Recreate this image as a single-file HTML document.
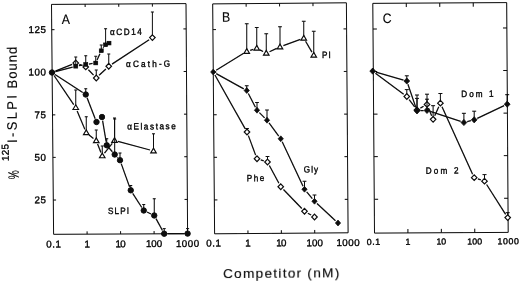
<!DOCTYPE html>
<html><head><meta charset="utf-8"><title>Figure</title>
<style>
html,body{margin:0;padding:0;background:#fff;}
body{width:520px;height:282px;overflow:hidden;}
svg{display:block;}
svg text{font-family:"Liberation Sans",sans-serif;fill:#080808;stroke:#080808;stroke-width:0.36;}
svg text.b{stroke-width:0.12;}
</style></head>
<body>
<svg width="520" height="282" viewBox="0 0 520 282">
<defs><filter id="soft" x="0" y="0" width="520" height="282" filterUnits="userSpaceOnUse"><feGaussianBlur stdDeviation="0.35"/></filter></defs>
<rect width="520" height="282" fill="#fff"/>
<g filter="url(#soft)">
<g stroke="#080808" stroke-linecap="butt">
<polygon points="51.5,4.4 186.0,3.6 187.6,233.7 53.6,234.3" fill="none" stroke-width="1.0" stroke-linejoin="miter"/>
<line x1="85.12" y1="4.20" x2="85.14" y2="7.00" stroke-width="1.0" />
<line x1="87.10" y1="234.15" x2="87.08" y2="231.35" stroke-width="1.0" />
<line x1="118.75" y1="4.00" x2="118.77" y2="6.80" stroke-width="1.0" />
<line x1="120.60" y1="234.00" x2="120.58" y2="231.20" stroke-width="1.0" />
<line x1="152.38" y1="3.80" x2="152.40" y2="6.60" stroke-width="1.0" />
<line x1="154.10" y1="233.85" x2="154.08" y2="231.05" stroke-width="1.0" />
<line x1="51.73" y1="29.69" x2="54.53" y2="29.68" stroke-width="1.0" />
<line x1="186.18" y1="28.91" x2="183.38" y2="28.92" stroke-width="1.0" />
<line x1="52.12" y1="72.22" x2="54.92" y2="72.21" stroke-width="1.0" />
<line x1="186.47" y1="71.48" x2="183.67" y2="71.49" stroke-width="1.0" />
<line x1="52.51" y1="114.87" x2="55.31" y2="114.86" stroke-width="1.0" />
<line x1="186.77" y1="114.16" x2="183.97" y2="114.17" stroke-width="1.0" />
<line x1="52.90" y1="157.40" x2="55.70" y2="157.39" stroke-width="1.0" />
<line x1="187.06" y1="156.73" x2="184.26" y2="156.74" stroke-width="1.0" />
<line x1="53.29" y1="200.04" x2="56.09" y2="200.03" stroke-width="1.0" />
<line x1="187.36" y1="199.42" x2="184.56" y2="199.43" stroke-width="1.0" />
<polygon points="212.7,3.9 346.4,2.8 348.1,232.8 214.6,233.8" fill="none" stroke-width="1.0" stroke-linejoin="miter"/>
<line x1="246.12" y1="3.62" x2="246.15" y2="6.72" stroke-width="1.0" />
<line x1="247.97" y1="233.55" x2="247.95" y2="230.45" stroke-width="1.0" />
<line x1="279.55" y1="3.35" x2="279.57" y2="6.45" stroke-width="1.0" />
<line x1="281.35" y1="233.30" x2="281.33" y2="230.20" stroke-width="1.0" />
<line x1="312.97" y1="3.07" x2="312.99" y2="6.17" stroke-width="1.0" />
<line x1="314.73" y1="233.05" x2="314.71" y2="229.95" stroke-width="1.0" />
<line x1="212.91" y1="29.59" x2="216.01" y2="29.58" stroke-width="1.0" />
<line x1="346.59" y1="28.90" x2="343.49" y2="28.91" stroke-width="1.0" />
<line x1="213.26" y1="72.12" x2="216.36" y2="72.11" stroke-width="1.0" />
<line x1="346.90" y1="71.45" x2="343.80" y2="71.46" stroke-width="1.0" />
<line x1="213.61" y1="114.77" x2="216.71" y2="114.76" stroke-width="1.0" />
<line x1="347.22" y1="114.11" x2="344.12" y2="114.12" stroke-width="1.0" />
<line x1="213.96" y1="157.30" x2="217.06" y2="157.29" stroke-width="1.0" />
<line x1="347.53" y1="156.67" x2="344.43" y2="156.68" stroke-width="1.0" />
<line x1="214.32" y1="199.94" x2="217.42" y2="199.93" stroke-width="1.0" />
<line x1="347.85" y1="199.33" x2="344.75" y2="199.34" stroke-width="1.0" />
<polygon points="372.8,3.35 506.7,2.6 508.2,232.4 374.5,233.1" fill="none" stroke-width="1.0" stroke-linejoin="miter"/>
<line x1="406.27" y1="3.16" x2="406.29" y2="7.06" stroke-width="1.0" />
<line x1="407.93" y1="232.93" x2="407.91" y2="229.03" stroke-width="1.0" />
<line x1="439.75" y1="2.98" x2="439.77" y2="6.88" stroke-width="1.0" />
<line x1="441.35" y1="232.75" x2="441.33" y2="228.85" stroke-width="1.0" />
<line x1="473.23" y1="2.79" x2="473.25" y2="6.69" stroke-width="1.0" />
<line x1="474.77" y1="232.57" x2="474.75" y2="228.67" stroke-width="1.0" />
<line x1="372.99" y1="29.02" x2="376.89" y2="29.01" stroke-width="1.0" />
<line x1="506.87" y1="27.98" x2="502.97" y2="27.99" stroke-width="1.0" />
<line x1="373.30" y1="71.53" x2="377.20" y2="71.52" stroke-width="1.0" />
<line x1="507.14" y1="70.49" x2="503.24" y2="70.50" stroke-width="1.0" />
<line x1="373.62" y1="114.14" x2="377.52" y2="114.13" stroke-width="1.0" />
<line x1="507.42" y1="113.12" x2="503.52" y2="113.13" stroke-width="1.0" />
<line x1="373.93" y1="156.65" x2="377.83" y2="156.64" stroke-width="1.0" />
<line x1="507.70" y1="155.63" x2="503.80" y2="155.64" stroke-width="1.0" />
<line x1="374.25" y1="199.27" x2="378.15" y2="199.26" stroke-width="1.0" />
<line x1="507.98" y1="198.26" x2="504.08" y2="198.27" stroke-width="1.0" />
<line x1="75.75" y1="107.60" x2="75.75" y2="90.00" stroke-width="1.0" />
<line x1="74.25" y1="90.00" x2="77.25" y2="90.00" stroke-width="1.0" />
<line x1="86.25" y1="132.70" x2="86.25" y2="116.75" stroke-width="1.0" />
<line x1="84.75" y1="116.75" x2="87.75" y2="116.75" stroke-width="1.0" />
<line x1="96.25" y1="140.70" x2="96.25" y2="130.00" stroke-width="1.0" />
<line x1="94.75" y1="130.00" x2="97.75" y2="130.00" stroke-width="1.0" />
<line x1="102.25" y1="155.90" x2="102.25" y2="146.00" stroke-width="1.0" />
<line x1="100.75" y1="146.00" x2="103.75" y2="146.00" stroke-width="1.0" />
<line x1="114.50" y1="140.45" x2="114.50" y2="118.00" stroke-width="1.0" />
<line x1="113.00" y1="118.00" x2="116.00" y2="118.00" stroke-width="1.0" />
<line x1="153.50" y1="150.95" x2="153.50" y2="133.80" stroke-width="1.0" />
<line x1="152.00" y1="133.80" x2="155.00" y2="133.80" stroke-width="1.0" />
<line x1="54.02" y1="75.48" x2="73.73" y2="104.62" stroke-width="1.25" />
<line x1="77.14" y1="110.92" x2="84.86" y2="129.38" stroke-width="1.25" />
<line x1="89.06" y1="134.95" x2="93.44" y2="138.45" stroke-width="1.25" />
<line x1="97.57" y1="144.05" x2="100.93" y2="152.55" stroke-width="1.25" />
<line x1="104.49" y1="153.08" x2="112.26" y2="143.27" stroke-width="1.25" />
<line x1="117.98" y1="141.39" x2="150.02" y2="150.01" stroke-width="1.25" />
<polygon points="75.75,104.80 78.55,109.50 72.95,109.50" fill="#fff" stroke-width="1.1"/>
<polygon points="86.25,129.90 89.05,134.60 83.45,134.60" fill="#fff" stroke-width="1.1"/>
<polygon points="96.25,137.90 99.05,142.60 93.45,142.60" fill="#fff" stroke-width="1.1"/>
<polygon points="102.25,153.10 105.05,157.80 99.45,157.80" fill="#fff" stroke-width="1.1"/>
<polygon points="114.50,137.65 117.30,142.35 111.70,142.35" fill="#fff" stroke-width="1.1"/>
<polygon points="153.50,148.15 156.30,152.85 150.70,152.85" fill="#fff" stroke-width="1.1"/>
<line x1="96.25" y1="78.00" x2="96.25" y2="70.00" stroke-width="1.0" />
<line x1="94.75" y1="70.00" x2="97.75" y2="70.00" stroke-width="1.0" />
<line x1="108.75" y1="66.25" x2="108.75" y2="54.00" stroke-width="1.0" />
<line x1="107.25" y1="54.00" x2="110.25" y2="54.00" stroke-width="1.0" />
<line x1="152.40" y1="37.60" x2="152.40" y2="12.00" stroke-width="1.0" />
<line x1="150.90" y1="12.00" x2="153.90" y2="12.00" stroke-width="1.0" />
<line x1="55.34" y1="71.16" x2="72.13" y2="64.45" stroke-width="1.25" />
<line x1="79.38" y1="64.42" x2="82.12" y2="65.48" stroke-width="1.25" />
<line x1="88.43" y1="69.73" x2="93.57" y2="75.17" stroke-width="1.25" />
<line x1="99.09" y1="75.33" x2="105.91" y2="68.92" stroke-width="1.25" />
<line x1="112.01" y1="64.11" x2="149.14" y2="39.74" stroke-width="1.25" />
<polygon points="75.75,60.20 78.50,63.00 75.75,65.80 73.00,63.00" fill="#fff" stroke-width="1.2"/>
<polygon points="85.75,64.10 88.50,66.90 85.75,69.70 83.00,66.90" fill="#fff" stroke-width="1.2"/>
<polygon points="96.25,75.20 99.00,78.00 96.25,80.80 93.50,78.00" fill="#fff" stroke-width="1.2"/>
<polygon points="108.75,63.45 111.50,66.25 108.75,69.05 106.00,66.25" fill="#fff" stroke-width="1.2"/>
<polygon points="152.40,34.80 155.15,37.60 152.40,40.40 149.65,37.60" fill="#fff" stroke-width="1.2"/>
<line x1="75.75" y1="66.25" x2="75.75" y2="57.00" stroke-width="1.0" />
<line x1="74.25" y1="57.00" x2="77.25" y2="57.00" stroke-width="1.0" />
<line x1="85.75" y1="64.50" x2="85.75" y2="55.75" stroke-width="1.0" />
<line x1="84.25" y1="55.75" x2="87.25" y2="55.75" stroke-width="1.0" />
<line x1="95.75" y1="63.00" x2="95.75" y2="56.25" stroke-width="1.0" />
<line x1="94.25" y1="56.25" x2="97.25" y2="56.25" stroke-width="1.0" />
<line x1="101.25" y1="50.75" x2="101.25" y2="45.00" stroke-width="1.0" />
<line x1="99.75" y1="45.00" x2="102.75" y2="45.00" stroke-width="1.0" />
<line x1="105.60" y1="44.80" x2="105.60" y2="28.75" stroke-width="1.0" />
<line x1="104.10" y1="28.75" x2="107.10" y2="28.75" stroke-width="1.0" />
<line x1="55.48" y1="71.58" x2="72.66" y2="67.06" stroke-width="1.25" />
<line x1="78.90" y1="65.70" x2="82.60" y2="65.05" stroke-width="1.25" />
<line x1="88.91" y1="64.03" x2="92.59" y2="63.47" stroke-width="1.25" />
<line x1="97.06" y1="60.08" x2="99.94" y2="53.67" stroke-width="1.25" />
<line x1="103.14" y1="48.17" x2="103.71" y2="47.38" stroke-width="1.25" />
<rect x="73.75" y="64.40" width="4.0" height="3.7" fill="#080808" stroke-width="0.6"/>
<rect x="83.75" y="62.65" width="4.0" height="3.7" fill="#080808" stroke-width="0.6"/>
<rect x="93.75" y="61.15" width="4.0" height="3.7" fill="#080808" stroke-width="0.6"/>
<rect x="99.25" y="48.90" width="4.0" height="3.7" fill="#080808" stroke-width="0.6"/>
<rect x="103.60" y="42.95" width="4.0" height="3.7" fill="#080808" stroke-width="0.6"/>
<rect x="107.00" y="41.25" width="4.0" height="3.7" fill="#080808" stroke-width="0.6"/>
<line x1="85.75" y1="94.50" x2="85.75" y2="88.75" stroke-width="1.0" />
<line x1="84.25" y1="88.75" x2="87.25" y2="88.75" stroke-width="1.0" />
<line x1="106.75" y1="145.30" x2="106.75" y2="138.75" stroke-width="1.0" />
<line x1="105.25" y1="138.75" x2="108.25" y2="138.75" stroke-width="1.0" />
<line x1="114.70" y1="154.50" x2="114.70" y2="119.00" stroke-width="1.0" />
<line x1="113.20" y1="119.00" x2="116.20" y2="119.00" stroke-width="1.0" />
<line x1="120.00" y1="160.20" x2="120.00" y2="153.00" stroke-width="1.0" />
<line x1="118.50" y1="153.00" x2="121.50" y2="153.00" stroke-width="1.0" />
<line x1="130.75" y1="190.30" x2="130.75" y2="185.50" stroke-width="1.0" />
<line x1="129.25" y1="185.50" x2="132.25" y2="185.50" stroke-width="1.0" />
<line x1="143.75" y1="210.50" x2="143.75" y2="204.50" stroke-width="1.0" />
<line x1="142.25" y1="204.50" x2="145.25" y2="204.50" stroke-width="1.0" />
<line x1="154.25" y1="215.50" x2="154.25" y2="198.75" stroke-width="1.0" />
<line x1="152.75" y1="198.75" x2="155.75" y2="198.75" stroke-width="1.0" />
<line x1="164.20" y1="233.70" x2="164.20" y2="228.60" stroke-width="1.0" />
<line x1="162.70" y1="228.60" x2="165.70" y2="228.60" stroke-width="1.0" />
<line x1="187.60" y1="233.60" x2="187.60" y2="228.60" stroke-width="1.0" />
<line x1="186.10" y1="228.60" x2="189.10" y2="228.60" stroke-width="1.0" />
<line x1="55.02" y1="74.47" x2="82.73" y2="92.53" stroke-width="1.25" />
<line x1="87.06" y1="97.85" x2="95.19" y2="118.65" stroke-width="1.25" />
<line x1="102.60" y1="120.55" x2="106.15" y2="141.75" stroke-width="1.25" />
<line x1="109.10" y1="148.02" x2="112.35" y2="151.78" stroke-width="1.25" />
<line x1="117.15" y1="157.14" x2="117.55" y2="157.56" stroke-width="1.25" />
<line x1="121.21" y1="163.59" x2="129.54" y2="186.91" stroke-width="1.25" />
<line x1="132.70" y1="193.33" x2="141.80" y2="207.47" stroke-width="1.25" />
<line x1="147.00" y1="212.05" x2="151.00" y2="213.95" stroke-width="1.25" />
<line x1="155.98" y1="218.66" x2="162.47" y2="230.54" stroke-width="1.25" />
<line x1="167.80" y1="233.68" x2="184.00" y2="233.62" stroke-width="1.25" />
<circle cx="85.75" cy="94.50" r="2.7" fill="#080808" stroke-width="0.9"/>
<circle cx="96.50" cy="122.00" r="2.7" fill="#080808" stroke-width="0.9"/>
<circle cx="102.00" cy="117.00" r="2.7" fill="#080808" stroke-width="0.9"/>
<circle cx="106.75" cy="145.30" r="2.7" fill="#080808" stroke-width="0.9"/>
<circle cx="114.70" cy="154.50" r="2.7" fill="#080808" stroke-width="0.9"/>
<circle cx="120.00" cy="160.20" r="2.7" fill="#080808" stroke-width="0.9"/>
<circle cx="130.75" cy="190.30" r="2.7" fill="#080808" stroke-width="0.9"/>
<circle cx="143.75" cy="210.50" r="2.7" fill="#080808" stroke-width="0.9"/>
<circle cx="154.25" cy="215.50" r="2.7" fill="#080808" stroke-width="0.9"/>
<circle cx="164.20" cy="233.70" r="2.7" fill="#080808" stroke-width="0.9"/>
<circle cx="187.60" cy="233.60" r="2.7" fill="#080808" stroke-width="0.9"/>
<circle cx="52.00" cy="72.50" r="2.7" fill="#080808" stroke-width="0.9"/>
<line x1="246.75" y1="51.45" x2="246.75" y2="23.75" stroke-width="1.0" />
<line x1="244.85" y1="23.75" x2="248.65" y2="23.75" stroke-width="1.0" />
<line x1="256.75" y1="48.20" x2="256.75" y2="27.50" stroke-width="1.0" />
<line x1="254.85" y1="27.50" x2="258.65" y2="27.50" stroke-width="1.0" />
<line x1="266.25" y1="53.20" x2="266.25" y2="33.75" stroke-width="1.0" />
<line x1="264.35" y1="33.75" x2="268.15" y2="33.75" stroke-width="1.0" />
<line x1="280.00" y1="46.95" x2="280.00" y2="26.75" stroke-width="1.0" />
<line x1="278.10" y1="26.75" x2="281.90" y2="26.75" stroke-width="1.0" />
<line x1="303.75" y1="38.20" x2="303.75" y2="21.25" stroke-width="1.0" />
<line x1="301.85" y1="21.25" x2="305.65" y2="21.25" stroke-width="1.0" />
<line x1="313.75" y1="55.20" x2="313.75" y2="31.25" stroke-width="1.0" />
<line x1="311.85" y1="31.25" x2="315.65" y2="31.25" stroke-width="1.0" />
<line x1="216.15" y1="70.22" x2="243.68" y2="53.33" stroke-width="1.25" />
<line x1="250.17" y1="50.34" x2="253.33" y2="49.31" stroke-width="1.25" />
<line x1="259.94" y1="49.88" x2="263.06" y2="51.52" stroke-width="1.25" />
<line x1="269.53" y1="51.71" x2="276.72" y2="48.44" stroke-width="1.25" />
<line x1="283.38" y1="45.71" x2="300.37" y2="39.44" stroke-width="1.25" />
<line x1="305.58" y1="41.30" x2="311.92" y2="52.10" stroke-width="1.25" />
<polygon points="246.75,48.65 249.55,53.35 243.95,53.35" fill="#fff" stroke-width="1.1"/>
<polygon points="256.75,45.40 259.55,50.10 253.95,50.10" fill="#fff" stroke-width="1.1"/>
<polygon points="266.25,50.40 269.05,55.10 263.45,55.10" fill="#fff" stroke-width="1.1"/>
<polygon points="280.00,44.15 282.80,48.85 277.20,48.85" fill="#fff" stroke-width="1.1"/>
<polygon points="303.75,35.40 306.55,40.10 300.95,40.10" fill="#fff" stroke-width="1.1"/>
<polygon points="313.75,52.40 316.55,57.10 310.95,57.10" fill="#fff" stroke-width="1.1"/>
<line x1="246.75" y1="90.50" x2="246.75" y2="85.75" stroke-width="1.0" />
<line x1="244.85" y1="85.75" x2="248.65" y2="85.75" stroke-width="1.0" />
<line x1="257.00" y1="110.25" x2="257.00" y2="102.50" stroke-width="1.0" />
<line x1="255.10" y1="102.50" x2="258.90" y2="102.50" stroke-width="1.0" />
<line x1="267.00" y1="120.25" x2="267.00" y2="110.00" stroke-width="1.0" />
<line x1="265.10" y1="110.00" x2="268.90" y2="110.00" stroke-width="1.0" />
<line x1="304.50" y1="189.25" x2="304.50" y2="181.25" stroke-width="1.0" />
<line x1="302.60" y1="181.25" x2="306.40" y2="181.25" stroke-width="1.0" />
<line x1="314.50" y1="201.25" x2="314.50" y2="195.00" stroke-width="1.0" />
<line x1="312.60" y1="195.00" x2="316.40" y2="195.00" stroke-width="1.0" />
<line x1="216.23" y1="73.64" x2="243.77" y2="88.86" stroke-width="1.25" />
<line x1="248.32" y1="93.52" x2="255.43" y2="107.23" stroke-width="1.25" />
<line x1="259.40" y1="112.65" x2="264.60" y2="117.85" stroke-width="1.25" />
<line x1="269.03" y1="122.98" x2="278.72" y2="136.02" stroke-width="1.25" />
<line x1="282.20" y1="141.83" x2="303.05" y2="186.17" stroke-width="1.25" />
<line x1="306.68" y1="191.86" x2="312.32" y2="198.64" stroke-width="1.25" />
<line x1="317.00" y1="203.56" x2="335.50" y2="220.69" stroke-width="1.25" />
<polygon points="246.75,87.60 249.35,90.50 246.75,93.40 244.15,90.50" fill="#080808" stroke-width="0.7"/>
<polygon points="257.00,107.35 259.60,110.25 257.00,113.15 254.40,110.25" fill="#080808" stroke-width="0.7"/>
<polygon points="267.00,117.35 269.60,120.25 267.00,123.15 264.40,120.25" fill="#080808" stroke-width="0.7"/>
<polygon points="280.75,135.85 283.35,138.75 280.75,141.65 278.15,138.75" fill="#080808" stroke-width="0.7"/>
<polygon points="304.50,186.35 307.10,189.25 304.50,192.15 301.90,189.25" fill="#080808" stroke-width="0.7"/>
<polygon points="314.50,198.35 317.10,201.25 314.50,204.15 311.90,201.25" fill="#080808" stroke-width="0.7"/>
<polygon points="338.00,220.10 340.60,223.00 338.00,225.90 335.40,223.00" fill="#080808" stroke-width="0.7"/>
<line x1="247.00" y1="132.00" x2="247.00" y2="128.50" stroke-width="1.0" />
<line x1="245.10" y1="128.50" x2="248.90" y2="128.50" stroke-width="1.0" />
<line x1="267.50" y1="162.00" x2="267.50" y2="156.50" stroke-width="1.0" />
<line x1="265.60" y1="156.50" x2="269.40" y2="156.50" stroke-width="1.0" />
<line x1="214.92" y1="74.96" x2="245.09" y2="128.60" stroke-width="1.25" />
<line x1="248.37" y1="135.65" x2="255.63" y2="155.10" stroke-width="1.25" />
<line x1="260.73" y1="159.90" x2="263.77" y2="160.85" stroke-width="1.25" />
<line x1="269.34" y1="165.44" x2="278.91" y2="183.31" stroke-width="1.25" />
<line x1="283.46" y1="189.55" x2="301.79" y2="208.45" stroke-width="1.25" />
<line x1="307.88" y1="213.19" x2="311.12" y2="215.06" stroke-width="1.25" />
<polygon points="247.00,129.20 249.75,132.00 247.00,134.80 244.25,132.00" fill="#fff" stroke-width="1.2"/>
<polygon points="257.00,155.95 259.75,158.75 257.00,161.55 254.25,158.75" fill="#fff" stroke-width="1.2"/>
<polygon points="267.50,159.20 270.25,162.00 267.50,164.80 264.75,162.00" fill="#fff" stroke-width="1.2"/>
<polygon points="280.75,183.95 283.50,186.75 280.75,189.55 278.00,186.75" fill="#fff" stroke-width="1.2"/>
<polygon points="304.50,208.45 307.25,211.25 304.50,214.05 301.75,211.25" fill="#fff" stroke-width="1.2"/>
<polygon points="314.50,214.20 317.25,217.00 314.50,219.80 311.75,217.00" fill="#fff" stroke-width="1.2"/>
<polygon points="213.25,69.10 215.85,72.00 213.25,74.90 210.65,72.00" fill="#080808" stroke-width="0.7"/>
<line x1="406.80" y1="96.50" x2="406.80" y2="89.60" stroke-width="1.0" />
<line x1="404.80" y1="89.60" x2="408.80" y2="89.60" stroke-width="1.0" />
<line x1="417.00" y1="110.00" x2="417.00" y2="98.40" stroke-width="1.0" />
<line x1="415.00" y1="98.40" x2="419.00" y2="98.40" stroke-width="1.0" />
<line x1="427.00" y1="104.40" x2="427.00" y2="99.20" stroke-width="1.0" />
<line x1="425.00" y1="99.20" x2="429.00" y2="99.20" stroke-width="1.0" />
<line x1="433.10" y1="119.30" x2="433.10" y2="105.70" stroke-width="1.0" />
<line x1="431.10" y1="105.70" x2="435.10" y2="105.70" stroke-width="1.0" />
<line x1="440.40" y1="103.20" x2="440.40" y2="93.50" stroke-width="1.0" />
<line x1="438.40" y1="93.50" x2="442.40" y2="93.50" stroke-width="1.0" />
<line x1="484.50" y1="181.20" x2="484.50" y2="174.60" stroke-width="1.0" />
<line x1="482.50" y1="174.60" x2="486.50" y2="174.60" stroke-width="1.0" />
<line x1="507.70" y1="217.60" x2="507.70" y2="212.70" stroke-width="1.0" />
<line x1="505.70" y1="212.70" x2="509.70" y2="212.70" stroke-width="1.0" />
<line x1="375.43" y1="73.13" x2="403.67" y2="94.17" stroke-width="1.25" />
<line x1="409.15" y1="99.61" x2="414.65" y2="106.89" stroke-width="1.25" />
<line x1="420.40" y1="108.09" x2="423.60" y2="106.31" stroke-width="1.25" />
<line x1="428.48" y1="108.01" x2="431.62" y2="115.69" stroke-width="1.25" />
<line x1="434.71" y1="115.75" x2="438.79" y2="106.75" stroke-width="1.25" />
<line x1="442.01" y1="106.75" x2="472.59" y2="174.15" stroke-width="1.25" />
<line x1="477.89" y1="178.95" x2="480.81" y2="179.95" stroke-width="1.25" />
<line x1="486.60" y1="184.49" x2="505.60" y2="214.31" stroke-width="1.25" />
<polygon points="406.80,93.70 409.55,96.50 406.80,99.30 404.05,96.50" fill="#fff" stroke-width="1.2"/>
<polygon points="417.00,107.20 419.75,110.00 417.00,112.80 414.25,110.00" fill="#fff" stroke-width="1.2"/>
<polygon points="427.00,101.60 429.75,104.40 427.00,107.20 424.25,104.40" fill="#fff" stroke-width="1.2"/>
<polygon points="433.10,116.50 435.85,119.30 433.10,122.10 430.35,119.30" fill="#fff" stroke-width="1.2"/>
<polygon points="440.40,100.40 443.15,103.20 440.40,106.00 437.65,103.20" fill="#fff" stroke-width="1.2"/>
<polygon points="474.20,174.90 476.95,177.70 474.20,180.50 471.45,177.70" fill="#fff" stroke-width="1.2"/>
<polygon points="484.50,178.40 487.25,181.20 484.50,184.00 481.75,181.20" fill="#fff" stroke-width="1.2"/>
<polygon points="507.70,214.80 510.45,217.60 507.70,220.40 504.95,217.60" fill="#fff" stroke-width="1.2"/>
<line x1="406.80" y1="81.00" x2="406.80" y2="75.80" stroke-width="1.0" />
<line x1="404.80" y1="75.80" x2="408.80" y2="75.80" stroke-width="1.0" />
<line x1="417.00" y1="110.80" x2="417.00" y2="95.00" stroke-width="1.0" />
<line x1="415.00" y1="95.00" x2="419.00" y2="95.00" stroke-width="1.0" />
<line x1="427.00" y1="110.40" x2="427.00" y2="94.20" stroke-width="1.0" />
<line x1="425.00" y1="94.20" x2="429.00" y2="94.20" stroke-width="1.0" />
<line x1="463.90" y1="122.50" x2="463.90" y2="113.30" stroke-width="1.0" />
<line x1="461.90" y1="113.30" x2="465.90" y2="113.30" stroke-width="1.0" />
<line x1="474.20" y1="119.80" x2="474.20" y2="111.20" stroke-width="1.0" />
<line x1="472.20" y1="111.20" x2="476.20" y2="111.20" stroke-width="1.0" />
<line x1="507.20" y1="104.20" x2="507.20" y2="94.70" stroke-width="1.0" />
<line x1="505.20" y1="94.70" x2="509.20" y2="94.70" stroke-width="1.0" />
<line x1="375.97" y1="72.05" x2="403.53" y2="80.05" stroke-width="1.25" />
<line x1="407.90" y1="84.22" x2="415.90" y2="107.58" stroke-width="1.25" />
<line x1="420.40" y1="110.66" x2="423.60" y2="110.54" stroke-width="1.25" />
<line x1="430.23" y1="111.46" x2="460.67" y2="121.44" stroke-width="1.25" />
<line x1="467.19" y1="121.64" x2="470.91" y2="120.66" stroke-width="1.25" />
<line x1="477.27" y1="118.35" x2="504.13" y2="105.65" stroke-width="1.25" />
<polygon points="406.80,77.90 409.70,81.00 406.80,84.10 403.90,81.00" fill="#080808" stroke-width="0.7"/>
<polygon points="417.00,107.70 419.90,110.80 417.00,113.90 414.10,110.80" fill="#080808" stroke-width="0.7"/>
<polygon points="427.00,107.30 429.90,110.40 427.00,113.50 424.10,110.40" fill="#080808" stroke-width="0.7"/>
<polygon points="463.90,119.40 466.80,122.50 463.90,125.60 461.00,122.50" fill="#080808" stroke-width="0.7"/>
<polygon points="474.20,116.70 477.10,119.80 474.20,122.90 471.30,119.80" fill="#080808" stroke-width="0.7"/>
<polygon points="507.20,101.10 510.10,104.20 507.20,107.30 504.30,104.20" fill="#080808" stroke-width="0.7"/>
<polygon points="372.70,68.00 375.60,71.10 372.70,74.20 369.80,71.10" fill="#080808" stroke-width="0.7"/>
</g>
<g>
<text transform="translate(46.3 247.5) rotate(-0.4) scale(1 1)" font-size="9.8" text-anchor="start" textLength="14.60" lengthAdjust="spacing" >0.1</text>
<text transform="translate(87.1 247.38) rotate(-0.4) scale(1 1)" font-size="9.8" text-anchor="middle" >1</text>
<text transform="translate(115.4 247.25) rotate(-0.4) scale(1 1)" font-size="9.8" text-anchor="start" textLength="10.40" lengthAdjust="spacing" >10</text>
<text transform="translate(145.9 247.12) rotate(-0.4) scale(1 1)" font-size="9.8" text-anchor="start" textLength="16.40" lengthAdjust="spacing" >100</text>
<text transform="translate(175.9 247.0) rotate(-0.4) scale(1 1)" font-size="9.8" text-anchor="start" textLength="23.40" lengthAdjust="spacing" >1000</text>
<text transform="translate(206.3 246.6) rotate(-0.4) scale(1 1)" font-size="9.8" text-anchor="start" textLength="14.60" lengthAdjust="spacing" >0.1</text>
<text transform="translate(247.97 246.47) rotate(-0.4) scale(1 1)" font-size="9.8" text-anchor="middle" >1</text>
<text transform="translate(276.15 246.35) rotate(-0.4) scale(1 1)" font-size="9.8" text-anchor="start" textLength="10.40" lengthAdjust="spacing" >10</text>
<text transform="translate(306.53 246.22) rotate(-0.4) scale(1 1)" font-size="9.8" text-anchor="start" textLength="16.40" lengthAdjust="spacing" >100</text>
<text transform="translate(336.4 246.1) rotate(-0.4) scale(1 1)" font-size="9.8" text-anchor="start" textLength="23.40" lengthAdjust="spacing" >1000</text>
<text transform="translate(366.82 244.9) rotate(-0.4) scale(1 1)" font-size="8.8" text-anchor="start" textLength="13.36" lengthAdjust="spacing" >0.1</text>
<text transform="translate(407.93 244.75) rotate(-0.4) scale(1 1)" font-size="8.8" text-anchor="middle" >1</text>
<text transform="translate(436.59 244.6) rotate(-0.4) scale(1 1)" font-size="8.8" text-anchor="start" textLength="9.52" lengthAdjust="spacing" >10</text>
<text transform="translate(467.27 244.45) rotate(-0.4) scale(1 1)" font-size="8.8" text-anchor="start" textLength="15.01" lengthAdjust="spacing" >100</text>
<text transform="translate(497.49 244.3) rotate(-0.4) scale(1 1)" font-size="8.8" text-anchor="start" textLength="21.41" lengthAdjust="spacing" >1000</text>
<text transform="translate(28.6 32.99) rotate(-0.4) scale(1 1)" font-size="9.8" text-anchor="start" textLength="17.30" lengthAdjust="spacing" >125</text>
<text transform="translate(28.6 75.52) rotate(-0.4) scale(1 1)" font-size="9.8" text-anchor="start" textLength="17.30" lengthAdjust="spacing" >100</text>
<text transform="translate(34.4 118.17) rotate(-0.4) scale(1 1)" font-size="9.8" text-anchor="start" textLength="11.50" lengthAdjust="spacing" >75</text>
<text transform="translate(34.4 160.7) rotate(-0.4) scale(1 1)" font-size="9.8" text-anchor="start" textLength="11.50" lengthAdjust="spacing" >50</text>
<text transform="translate(34.4 203.34) rotate(-0.4) scale(1 1)" font-size="9.8" text-anchor="start" textLength="11.50" lengthAdjust="spacing" >25</text>
<text transform="translate(61.7 24) rotate(-0.4) scale(0.9 1)" font-size="13.7" text-anchor="start"  class="b">A</text>
<text transform="translate(222.0 21.8) rotate(-0.4) scale(0.9 1)" font-size="13.7" text-anchor="start"  class="b">B</text>
<text transform="translate(382.8 23.1) rotate(-0.4) scale(0.9 1)" font-size="13.7" text-anchor="start"  class="b">C</text>
<text transform="translate(110 35) rotate(-0.4) scale(0.9 1)" font-size="9.1" text-anchor="start" textLength="35.44" lengthAdjust="spacing" >αCD14</text>
<text transform="translate(126 67.1) rotate(-0.4) scale(0.9 1)" font-size="9.1" text-anchor="start" textLength="49.11" lengthAdjust="spacing" >αCath-G</text>
<text transform="translate(127.2 129.6) rotate(-0.4) scale(0.9 1)" font-size="9.1" text-anchor="start" textLength="54.00" lengthAdjust="spacing" >αElastase</text>
<text transform="translate(107.9 214) rotate(-0.4) scale(0.9 1)" font-size="9.1" text-anchor="start" textLength="23.44" lengthAdjust="spacing" >SLPI</text>
<text transform="translate(321.9 58) rotate(-0.4) scale(0.9 1)" font-size="9.1" text-anchor="start" textLength="9.78" lengthAdjust="spacing" >PI</text>
<text transform="translate(303.75 172.5) rotate(-0.4) scale(0.9 1)" font-size="9.1" text-anchor="start" textLength="15.89" lengthAdjust="spacing" >Gly</text>
<text transform="translate(246.75 181.2) rotate(-0.4) scale(0.9 1)" font-size="9.1" text-anchor="start" textLength="19.56" lengthAdjust="spacing" >Phe</text>
<text transform="translate(461.2 97) rotate(-0.4) scale(0.9 1)" font-size="9.1" text-anchor="start" textLength="35.89" lengthAdjust="spacing" >Dom 1</text>
<text transform="translate(425.8 173.8) rotate(-0.4) scale(0.9 1)" font-size="9.1" text-anchor="start" textLength="36.33" lengthAdjust="spacing" >Dom 2</text>
<text transform="translate(223.1 278.1) rotate(-0.4) scale(1 1)" font-size="13.7" text-anchor="start" textLength="116.20" lengthAdjust="spacing"  class="b">Competitor (nM)</text>
<text transform="translate(18.7 179.2) rotate(-90.4) scale(0.68 1)" font-size="15" text-anchor="start"  class="b">%</text>
<text transform="translate(8.7 161) rotate(-90.4) scale(1 1)" font-size="9.8" text-anchor="start" textLength="16.90" lengthAdjust="spacing" >125</text>
<text transform="translate(16.9 142.9) rotate(-90.4) scale(0.95 1)" font-size="13.7" text-anchor="start" textLength="50.42" lengthAdjust="spacing"  class="b">I-SLPI</text>
<text transform="translate(16.9 88.4) rotate(-90.4) scale(0.95 1)" font-size="13.7" text-anchor="start" textLength="43.89" lengthAdjust="spacing"  class="b">Bound</text>
</g>
</g>
</svg>
</body></html>
